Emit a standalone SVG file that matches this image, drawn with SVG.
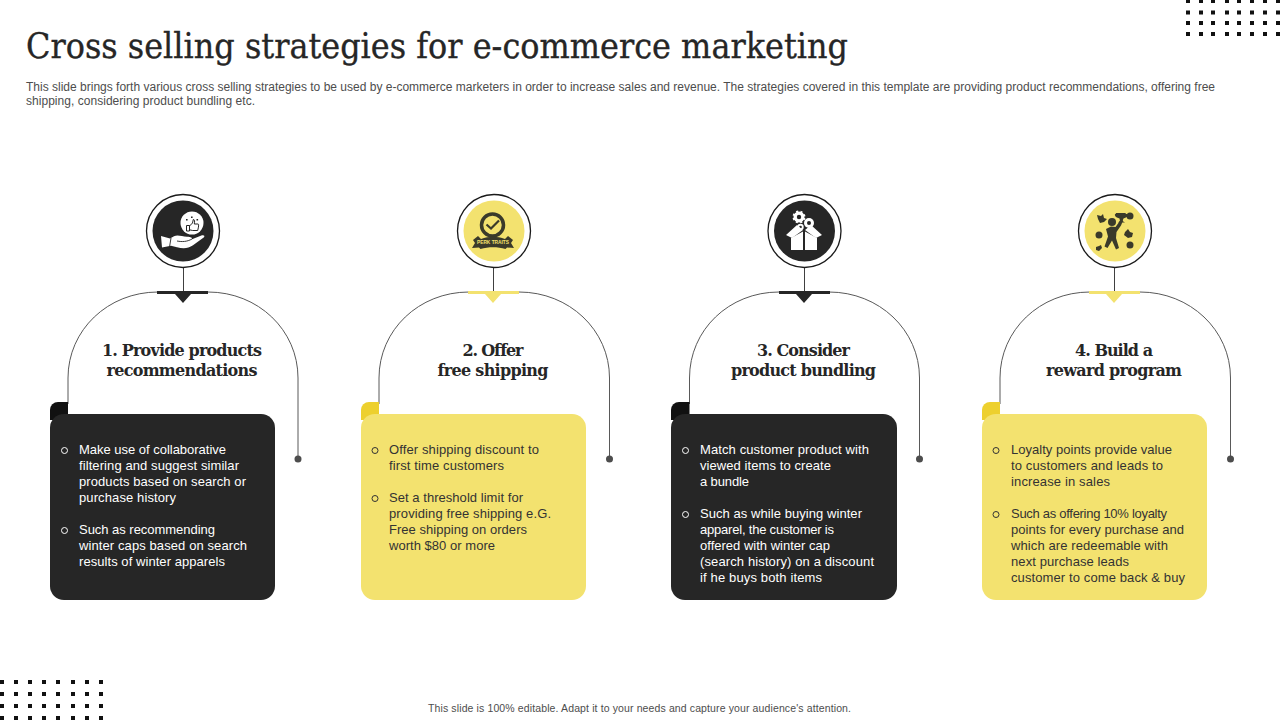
<svg xmlns="http://www.w3.org/2000/svg" width="1280" height="720" viewBox="0 0 1280 720">
<style>
.sans{font-family:"Liberation Sans",Arial,sans-serif}
.serif{font-family:"DejaVu Serif","Liberation Serif",serif}
.title{font-size:36px;fill:#262626;stroke:#262626;stroke-width:.35}
.sub{font-size:12px;fill:#4d4d4d}
.head{font-size:16px;font-weight:bold;fill:#262626;text-anchor:middle}
.bw{font-size:13px;fill:#fff}
.bd{font-size:13px;fill:#333}
.arc{fill:none;stroke:#595959;stroke-width:1}
.ring{fill:#fff;stroke:#1a1a1a;stroke-width:1.3}
.bu{fill:none;stroke-width:1}
.d{fill:#262626}.y{fill:#f3e26f}.w{fill:#fff}
.o{fill:#3a3a2a}
</style>
<rect width="1280" height="720" fill="#fff"/>
<text class="serif title" x="26" y="58" textLength="822" lengthAdjust="spacingAndGlyphs">Cross selling strategies for e-commerce marketing</text>
<text class="sans sub" x="26" y="91" textLength="1189" lengthAdjust="spacing">This slide brings forth various cross selling strategies to be used by e-commerce marketers in order to increase sales and revenue. The strategies covered in this template are providing product recommendations, offering free</text>
<text class="sans sub" x="26" y="105" textLength="229" lengthAdjust="spacing">shipping, considering product bundling etc.</text>
<g id="dots-top" fill="#111">
<path d="M1186 0h4v3h-4zM1199 0h4v3h-4zM1211 0h4v3h-4zM1225 0h4v3h-4zM1237 0h4v3h-4zM1250 0h4v3h-4zM1263 0h4v3h-4zM1276 0h4v3h-4z"/>
<path d="M1186 10.500h4v4h-4zM1199 10.500h4v4h-4zM1211 10.500h4v4h-4zM1225 10.500h4v4h-4zM1237 10.500h4v4h-4zM1250 10.500h4v4h-4zM1263 10.500h4v4h-4zM1276 10.500h4v4h-4z"/>
<path d="M1186 21h4v4h-4zM1199 21h4v4h-4zM1211 21h4v4h-4zM1225 21h4v4h-4zM1237 21h4v4h-4zM1250 21h4v4h-4zM1263 21h4v4h-4zM1276 21h4v4h-4z"/>
<path d="M1186 32h4v4h-4zM1199 32h4v4h-4zM1211 32h4v4h-4zM1225 32h4v4h-4zM1237 32h4v4h-4zM1250 32h4v4h-4zM1263 32h4v4h-4zM1276 32h4v4h-4z"/>
</g>
<g id="dots-bottom" fill="#111">
<path d="M0 680h4v4h-4zM14 680h4v4h-4zM28 680h4v4h-4zM42 680h4v4h-4zM56 680h4v4h-4zM71 680h4v4h-4zM85 680h4v4h-4zM99 680h4v4h-4z"/>
<path d="M0 692h4v4h-4zM14 692h4v4h-4zM28 692h4v4h-4zM42 692h4v4h-4zM56 692h4v4h-4zM71 692h4v4h-4zM85 692h4v4h-4zM99 692h4v4h-4z"/>
<path d="M0 704h4v4h-4zM14 704h4v4h-4zM28 704h4v4h-4zM42 704h4v4h-4zM56 704h4v4h-4zM71 704h4v4h-4zM85 704h4v4h-4zM99 704h4v4h-4z"/>
<path d="M0 716h4v4h-4zM14 716h4v4h-4zM28 716h4v4h-4zM42 716h4v4h-4zM56 716h4v4h-4zM71 716h4v4h-4zM85 716h4v4h-4zM99 716h4v4h-4z"/>
</g>
<g id="connectors">
<path class="arc" d="M68 404V378C68 330 108 292 158 292H208C258 292 298 330 298 378V459"/>
<path class="arc" d="M379 404V378C379 330 419 292 469 292H519C569 292 609.500 330 609.500 378V459"/>
<path class="arc" d="M689.500 404V378C689.500 330 729 292 779 292H829C879 292 919.500 330 919.500 378V459"/>
<path class="arc" d="M1000 404V378C1000 330 1040 292 1090 292H1140C1190 292 1230.500 330 1230.500 378V459"/>
<path stroke="#404040" fill="none" d="M183.500 268V292M493.500 268V292M804.500 268V292M1114.500 268V292"/>
<circle cx="298" cy="459" r="3.500" fill="#4d4d4d"/><circle cx="609.500" cy="459" r="3.500" fill="#4d4d4d"/><circle cx="919.500" cy="459" r="3.500" fill="#4d4d4d"/><circle cx="1230.500" cy="459" r="3.500" fill="#4d4d4d"/>
</g>
<g id="node1">
<circle class="ring" cx="183" cy="231" r="36.500"/><circle class="d" cx="183" cy="231" r="30.500"/>
<circle class="w" cx="192" cy="223" r="11.500"/>
<path fill="none" stroke="#262626" stroke-width="1" d="M186.500 225.500h3v5.500h-3zM189.500 226l3-3 .8-3.500c1.500 0 1.500 2 1 4.500h3.700c1 0 .8 2-.3 6.500h-5l-3.200-.7"/>
<path class="d" d="M191 216.500h1.600v1.600h-1.600zM186 219h1.600v1.600h-1.600zM196.500 219h1.600v1.600h-1.600z"/>
<path class="w" d="M161 236l9 2.500 4-2.200c4-1.800 8 .5 13 .5 4 0 5.500 1 5 2.500l10-4c2-.5 3 .5 2 2l-11 8c-5 3.500-10 3.500-16 2l-6-1.500-9 1.700z"/>
<path fill="none" stroke="#262626" stroke-width=".9" d="M177 241c5 1 10 .8 15-2"/>
<path fill="none" stroke="#262626" stroke-width=".9" d="M171 238l-1.500 9"/>
<path class="d" d="M157 291h51v3h-51zM175 294h16l-8 9z"/>
<text class="serif head" x="182" y="355.500" textLength="160">1. Provide products</text>
<text class="serif head" x="182" y="375.500" textLength="151">recommendations</text>
<path fill="#111" d="M68 402H58a8 8 0 0 0-8 8v10h18z"/>
<rect class="d" x="50" y="414" width="225" height="186" rx="14"/>
<circle class="bu" stroke="#fff" cx="64.500" cy="450.500" r="3"/><circle class="bu" stroke="#fff" cx="64.500" cy="530.500" r="3"/>
<g class="sans bw"><text x="79" y="454" textLength="147">Make use of collaborative</text><text x="79" y="470" textLength="160">filtering and suggest similar</text><text x="79" y="486" textLength="167">products based on search or</text><text x="79" y="502" textLength="97">purchase history</text><text x="79" y="534" textLength="136">Such as recommending</text><text x="79" y="550" textLength="168">winter caps based on search</text><text x="79" y="566" textLength="146">results of winter apparels</text></g>
</g>
<g id="node2">
<circle class="ring" cx="494" cy="231" r="36.500"/><circle class="y" cx="494" cy="231" r="30.500"/>
<circle cx="492.500" cy="225" r="11" fill="none" stroke="#3a3a2a" stroke-width="3.500"/>
<path fill="none" stroke="#3a3a2a" stroke-width="2.200" d="M486.500 224.500l4.500 4 8-8"/>
<path class="o" d="M473 240l5-4 3 3c8-3 16-3 24 0l3-3 5 4-2 3 3 5-7-.5-1.500 1.500c-8-2.500-17-2.500-25 0l-1.500-1.500-7 .5 3-5z"/>
<text class="sans" x="493" y="244" font-size="4.800" font-weight="bold" fill="#f3e26f" text-anchor="middle">PERK TRAITS</text>
<path class="y" d="M468 291h51v3h-51zM485 294h16l-8 9z"/>
<text class="serif head" x="493" y="355.500" textLength="61">2. Offer</text>
<text class="serif head" x="493" y="375.500" textLength="111">free shipping</text>
<path fill="#edd02e" d="M379 402H369a8 8 0 0 0-8 8v10h18z"/>
<rect class="y" x="361" y="414" width="225" height="186" rx="14"/>
<circle class="bu" stroke="#333" cx="375" cy="450.500" r="3"/><circle class="bu" stroke="#333" cx="375" cy="498.500" r="3"/>
<g class="sans bd"><text x="389" y="454" textLength="150">Offer shipping discount to</text><text x="389" y="470" textLength="115">first time customers</text><text x="389" y="502" textLength="134">Set a threshold limit for</text><text x="389" y="518" textLength="162">providing free shipping e.G.</text><text x="389" y="534" textLength="138">Free shipping on orders</text><text x="389" y="550" textLength="106">worth $80 or more</text></g>
</g>
<g id="node3">
<circle class="ring" cx="804.500" cy="231" r="36.500"/><circle class="d" cx="804.500" cy="231" r="30.500"/>
<circle cx="799" cy="217" r="5.500" class="w"/><circle cx="799" cy="217" r="5.500" fill="none" stroke="#fff" stroke-width="2" stroke-dasharray="2 2.300" transform="rotate(10 799 217)" style="transform-box:view-box"/><circle cx="799" cy="217" r="2.200" class="d"/>
<circle cx="809" cy="223" r="5" class="w"/><circle cx="809" cy="223" r="2" class="d"/>
<circle cx="800.500" cy="227" r="3.200" class="w"/><circle cx="800.500" cy="227" r="1.300" class="d"/>
<path class="w" d="M791 238l12-6.500V250H791zM805 231.500l12 6.500v12H805z"/>
<path class="w" d="M786 235l11-10 6 5-11 8zM822 235l-11-10-6 5 11 8z"/>
<path class="d" d="M779 291h51v3h-51zM796 294h16l-8 9z"/>
<text class="serif head" x="803.500" y="355.500" textLength="93">3. Consider</text>
<text class="serif head" x="803.500" y="375.500" textLength="145">product bundling</text>
<path fill="#111" d="M689.500 402H679a8 8 0 0 0-8 8v10h18.500z"/>
<rect class="d" x="671" y="414" width="226" height="186" rx="14"/>
<circle class="bu" stroke="#fff" cx="685.500" cy="450.500" r="3"/><circle class="bu" stroke="#fff" cx="685.500" cy="514.500" r="3"/>
<g class="sans bw"><text x="700" y="454" textLength="169">Match customer product with</text><text x="700" y="470" textLength="131">viewed items to create</text><text x="700" y="486" textLength="49">a bundle</text><text x="700" y="518" textLength="162">Such as while buying winter</text><text x="700" y="534" textLength="134">apparel, the customer is</text><text x="700" y="550" textLength="130">offered with winter cap</text><text x="700" y="566" textLength="174">(search history) on a discount</text><text x="700" y="582" textLength="122">if he buys both items</text></g>
</g>
<g id="node4">
<circle class="ring" cx="1115" cy="231" r="36.500"/><circle class="y" cx="1115" cy="231" r="30.500"/>
<g class="o">
<circle cx="1112" cy="222" r="4"/>
<path d="M1106 229l5-2.500 4.500.5 4-5.500 1-2 2.500 1-2 5-4.500 6.500-.5 6 3 10-3 1.500-4-9-4.500 7.500-3-1.500 3.500-10z"/>
<path d="M1116 213h9.500c-.3 1.500 3.500.5 2.500 2.500-1 2-3 2.500-4.500 3l-1 2.500 2.500 1.500h-7l2-1.500-.5-2.500c-1.500-.5-4-1-4.500-3-.5-2 1-1 1-2.500z"/>
<circle cx="1130" cy="216" r="3.500"/><circle cx="1130" cy="245" r="3.500"/><circle cx="1099" cy="235" r="3.500"/>
<path d="M1097 215l4 1 2-2 1 4 3 1-3 3-4 1-2-4zM1128 229l2 3 3 1-1 4-4 1-4-3 1-3zM1096 247l3-1 2-1 1 3-3 3-3-1z"/>
</g>
<path class="y" d="M1089 291h51v3h-51zM1106 294h16l-8 9z"/>
<text class="serif head" x="1114" y="355.500" textLength="78">4. Build a</text>
<text class="serif head" x="1114" y="375.500" textLength="136">reward program</text>
<path fill="#edd02e" d="M1000 402H990a8 8 0 0 0-8 8v10h18z"/>
<rect class="y" x="982" y="414" width="225" height="186" rx="14"/>
<circle class="bu" stroke="#333" cx="996" cy="450.500" r="3"/><circle class="bu" stroke="#333" cx="996" cy="514.500" r="3"/>
<g class="sans bd"><text x="1011" y="454" textLength="161">Loyalty points provide value</text><text x="1011" y="470" textLength="152">to customers and leads to</text><text x="1011" y="486" textLength="99">increase in sales</text><text x="1011" y="518" textLength="156">Such as offering 10% loyalty</text><text x="1011" y="534" textLength="173">points for every purchase and</text><text x="1011" y="550" textLength="157">which are redeemable with</text><text x="1011" y="566" textLength="118">next purchase leads</text><text x="1011" y="582" textLength="174">customer to come back &amp; buy</text></g>
</g>
<text class="sans" x="428" y="712" font-size="10.500" fill="#4d4d4d" textLength="423">This slide is 100% editable. Adapt it to your needs and capture your audience's attention.</text>
</svg>
